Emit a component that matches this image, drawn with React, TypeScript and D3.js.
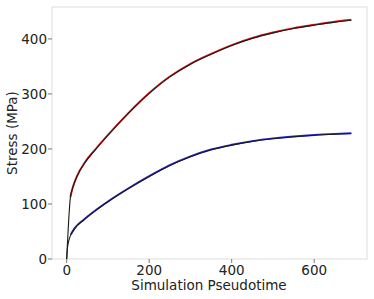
import React from "react";
import * as d3 from "d3";

const upperT = [0, 9, 15, 25, 45, 70, 105, 150, 200, 250, 300, 350, 400, 450, 500, 550, 600, 650, 690];
const upperV = [0, 112, 130, 150, 176, 199, 229, 265, 301, 331, 354, 372, 388, 401, 411, 419, 425, 430.5, 434];
const lowerT = [0, 2, 5, 10, 20, 40, 70, 100, 150, 200, 250, 300, 350, 400, 450, 500, 550, 600, 650, 690];
const lowerV = [0, 20, 33, 44, 56, 70, 88, 104, 128, 150, 170, 186, 198.5, 207, 213.7, 218.6, 222.2, 224.9, 226.8, 228];
const xTicks = [0, 200, 400, 600];
const yTicks = [0, 100, 200, 300, 400];

const W = 374, H = 299;
const L = 52, R = 367, T = 7, B = 259;

export default function App() {
  const x = d3.scaleLinear().domain([-35.6, 728]).range([L, R]);
  const y = d3.scaleLinear().domain([0, 458]).range([B, T]);
  const line = d3
    .line<[number, number]>()
    .x((d) => x(d[0]))
    .y((d) => y(d[1]))
    .curve(d3.curveMonotoneX);
  const up: [number, number][] = upperT.map((t, i) => [t, upperV[i]]);
  const lo: [number, number][] = lowerT.map((t, i) => [t, lowerV[i]]);
  const font = "DejaVu Sans, sans-serif";
  return (
    <svg width={W} height={H} style={{ position: "absolute", left: 0, top: 0 }}>
      <rect x={0} y={0} width={W} height={H} fill="white" />
      <rect x={L} y={T} width={R - L} height={B - T} fill="none" stroke="#dddddd" strokeWidth={1} />
      {yTicks.map((v) => (
        <g key={"y" + v}>
          <line x1={L - 4} x2={L} y1={y(v)} y2={y(v)} stroke="#555" strokeWidth={0.8} />
          <text x={L - 5} y={y(v)} dy="0.36em" textAnchor="end" fontSize={13.5} fontFamily={font} fill="#222">
            {v}
          </text>
        </g>
      ))}
      {xTicks.map((v) => (
        <g key={"x" + v}>
          <line x1={x(v)} x2={x(v)} y1={B} y2={B + 4} stroke="#555" strokeWidth={0.8} />
          <text x={x(v)} y={B + 16} textAnchor="middle" fontSize={13.5} fontFamily={font} fill="#222">
            {v}
          </text>
        </g>
      ))}
      <text x={209} y={290} textAnchor="middle" fontSize={13.5} fontFamily={font} fill="#222">
        Simulation Pseudotime
      </text>
      <text
        transform={`translate(17,133) rotate(-90)`}
        textAnchor="middle"
        fontSize={13.5}
        fontFamily={font}
        fill="#222"
      >
        Stress (MPa)
      </text>
      <path d={line(up.slice(1)) || ""} fill="none" stroke="#e02020" strokeWidth={1.9} transform="translate(0,-0.4)" />
      <path d={line(lo.slice(3)) || ""} fill="none" stroke="#2a2ad8" strokeWidth={1.9} transform="translate(0,-0.3)" />
      <path d={line(up) || ""} fill="none" stroke="#1a1a1a" strokeWidth={1.1} />
      <path d={line(lo) || ""} fill="none" stroke="#1a1a1a" strokeWidth={1.1} />
    </svg>
  );
}
